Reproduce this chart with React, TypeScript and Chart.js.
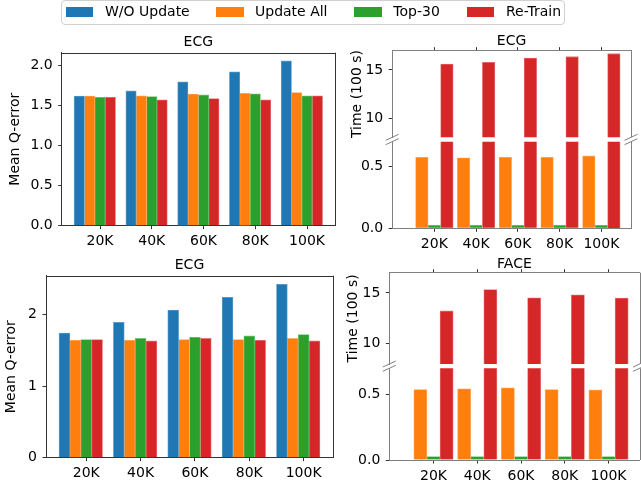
import React, { useEffect, useRef } from "react";
import { Chart, registerables } from "chart.js";

Chart.register(...registerables);

const FONT = "'DejaVu Sans', 'Liberation Sans', sans-serif";
Chart.defaults.font.family = FONT;

// ---------- data ----------
const categories = ["20K", "40K", "60K", "80K", "100K"];
const seriesNames = ["W/O Update", "Update All", "Top-30", "Re-Train"];
const seriesColors = ["#1f77b4", "#ff7f0e", "#2ca02c", "#d62728"];
const seriesEdgeColors = ["#6aa5cf", "#ffad66", "#76c476", "#e57a7b"];

// top-left: ECG, mean Q-error
const ecgErrWoUpdate = [1.62, 1.685, 1.8, 1.925, 2.06];
const ecgErrUpdateAll = [1.62, 1.625, 1.645, 1.655, 1.665];
const ecgErrTop30 = [1.605, 1.615, 1.635, 1.65, 1.625];
const ecgErrRetrain = [1.605, 1.575, 1.59, 1.575, 1.625];

// bottom-left: ECG, mean Q-error
const ecg2ErrWoUpdate = [1.74, 1.89, 2.06, 2.24, 2.42];
const ecg2ErrUpdateAll = [1.64, 1.64, 1.65, 1.65, 1.665];
const ecg2ErrTop30 = [1.65, 1.665, 1.68, 1.7, 1.72];
const ecg2ErrRetrain = [1.65, 1.63, 1.665, 1.64, 1.63];

// top-right: ECG, time (100 s)
const ecgTimeUpdateAll = [0.575, 0.57, 0.575, 0.575, 0.585];
const ecgTimeTop30 = [0.024, 0.024, 0.024, 0.024, 0.024];
const ecgTimeRetrain = [15.62, 15.79, 16.24, 16.38, 16.69];

// bottom-right: FACE, time (100 s)
const faceTimeUpdateAll = [0.538, 0.543, 0.551, 0.538, 0.535];
const faceTimeTop30 = [0.027, 0.027, 0.027, 0.027, 0.027];
const faceTimeRetrain = [13.23, 15.33, 14.53, 14.83, 14.5];

// tick values
const errTicksTop = [0, 0.5, 1, 1.5, 2];
const errTicksBottom = [0, 1, 2];
const timeTicksUpper = [10, 15];
const timeTicksLower = [0, 0.5];

// ---------- layout ----------
const W = 641;
const H = 487;

type Area = { left: number; right: number; top: number; bottom: number };
type SeriesSpec = { idx: number; values: number[]; offset: number };
type PanelSpec = {
  area: Area;
  xRange: [number, number];
  yRange: [number, number];
  yTicks: number[];
  yDecimals: number;
  series: SeriesSpec[];
  xAxis: "bottom" | "top";
  yTitle?: string;
  yTitleX?: number;
  title?: string;
  titleY?: number;
  spineColor: string;
  topSpine: boolean;
  breakAt?: "top" | "bottom";
};

const leftOffsets = [-0.4, -0.2, 0, 0.2];
const rightOffsets = [-0.3, 0, 0.3];

const panels: PanelSpec[] = [
  {
    area: { left: 61.7, right: 335, top: 52.7, bottom: 225.7 },
    xRange: [-0.74, 4.54],
    yRange: [0, 2.163],
    yTicks: errTicksTop,
    yDecimals: 1,
    series: [
      { idx: 0, values: ecgErrWoUpdate, offset: leftOffsets[0] },
      { idx: 1, values: ecgErrUpdateAll, offset: leftOffsets[1] },
      { idx: 2, values: ecgErrTop30, offset: leftOffsets[2] },
      { idx: 3, values: ecgErrRetrain, offset: leftOffsets[3] },
    ],
    xAxis: "bottom",
    yTitle: "Mean Q-error",
    yTitleX: 15.5,
    title: "ECG",
    titleY: 46,
    spineColor: "#333333",
    topSpine: true,
  },
  {
    area: { left: 46, right: 333, top: 275.7, bottom: 457.7 },
    xRange: [-0.74, 4.54],
    yRange: [0, 2.541],
    yTicks: errTicksBottom,
    yDecimals: 0,
    series: [
      { idx: 0, values: ecg2ErrWoUpdate, offset: leftOffsets[0] },
      { idx: 1, values: ecg2ErrUpdateAll, offset: leftOffsets[1] },
      { idx: 2, values: ecg2ErrTop30, offset: leftOffsets[2] },
      { idx: 3, values: ecg2ErrRetrain, offset: leftOffsets[3] },
    ],
    xAxis: "bottom",
    yTitle: "Mean Q-error",
    yTitleX: 11.8,
    title: "ECG",
    titleY: 269,
    spineColor: "#333333",
    topSpine: true,
  },
  {
    area: { left: 392.2, right: 631, top: 50.7, bottom: 137.3 },
    xRange: [-1.01, 4.71],
    yRange: [8, 17],
    yTicks: timeTicksUpper,
    yDecimals: 0,
    series: [
      { idx: 1, values: ecgTimeUpdateAll, offset: rightOffsets[0] },
      { idx: 2, values: ecgTimeTop30, offset: rightOffsets[1] },
      { idx: 3, values: ecgTimeRetrain, offset: rightOffsets[2] },
    ],
    xAxis: "top",
    yTitle: "Time (100 s)",
    yTitleX: 357,
    title: "ECG",
    titleY: 45,
    spineColor: "#808080",
    topSpine: false,
    breakAt: "bottom",
  },
  {
    area: { left: 392.2, right: 631, top: 141.7, bottom: 228.3 },
    xRange: [-1.01, 4.71],
    yRange: [0, 0.7],
    yTicks: timeTicksLower,
    yDecimals: 1,
    series: [
      { idx: 1, values: ecgTimeUpdateAll, offset: rightOffsets[0] },
      { idx: 2, values: ecgTimeTop30, offset: rightOffsets[1] },
      { idx: 3, values: ecgTimeRetrain, offset: rightOffsets[2] },
    ],
    xAxis: "bottom",
    spineColor: "#808080",
    topSpine: false,
    breakAt: "top",
  },
  {
    area: { left: 389.3, right: 639.6, top: 272.7, bottom: 364 },
    xRange: [-1.01, 4.71],
    yRange: [8, 17],
    yTicks: timeTicksUpper,
    yDecimals: 0,
    series: [
      { idx: 1, values: faceTimeUpdateAll, offset: rightOffsets[0] },
      { idx: 2, values: faceTimeTop30, offset: rightOffsets[1] },
      { idx: 3, values: faceTimeRetrain, offset: rightOffsets[2] },
    ],
    xAxis: "top",
    yTitle: "Time (100 s)",
    yTitleX: 353,
    title: "FACE",
    titleY: 267.5,
    spineColor: "#808080",
    topSpine: false,
    breakAt: "bottom",
  },
  {
    area: { left: 389.3, right: 639.6, top: 368.3, bottom: 460 },
    xRange: [-1.01, 4.71],
    yRange: [0, 0.7],
    yTicks: timeTicksLower,
    yDecimals: 1,
    series: [
      { idx: 1, values: faceTimeUpdateAll, offset: rightOffsets[0] },
      { idx: 2, values: faceTimeTop30, offset: rightOffsets[1] },
      { idx: 3, values: faceTimeRetrain, offset: rightOffsets[2] },
    ],
    xAxis: "bottom",
    spineColor: "#808080",
    topSpine: false,
    breakAt: "top",
  },
];

const framePlugin = {
  id: "frame",
  afterDraw(chart: any, _args: any, opts: any) {
    const { ctx, chartArea: a } = chart;
    const crisp = (v: number) => Math.round(v) + 0.5;
    ctx.save();
    ctx.strokeStyle = opts.color;
    ctx.lineWidth = 1;
    ctx.beginPath();
    if (opts.top) {
      ctx.moveTo(a.left, crisp(a.top));
      ctx.lineTo(a.right, crisp(a.top));
    }
    ctx.moveTo(crisp(a.right), a.top);
    ctx.lineTo(crisp(a.right), a.bottom);
    ctx.stroke();
    if (opts.breakAt) {
      const y = opts.breakAt === "bottom" ? a.bottom : a.top;
      ctx.beginPath();
      for (const x of [a.left, a.right]) {
        ctx.moveTo(x - 6.5, y + 3);
        ctx.lineTo(x + 6.5, y - 3);
      }
      ctx.stroke();
    }
    if (opts.title) {
      ctx.fillStyle = "#000";
      ctx.font = `14px ${FONT}`;
      ctx.textAlign = "center";
      ctx.textBaseline = "alphabetic";
      ctx.fillText(opts.title, (a.left + a.right) / 2, opts.titleY);
    }
    ctx.restore();
  },
};

function buildConfig(p: PanelSpec): any {
  const titlePad = 4;
  const yW = p.yTitle ? p.area.left - (p.yTitleX! - 8.4 - titlePad) : 50;
  const padLeft = p.area.left - yW;
  const xH = p.xAxis === "bottom" ? 30 : 0;
  const padding = {
    left: padLeft,
    right: W - p.area.right,
    top: p.area.top,
    bottom: H - p.area.bottom - xH,
  };
  const font = { family: FONT, size: 14 };
  const zeroPad = (s: any) => {
    s.paddingLeft = 0;
    s.paddingRight = 0;
    s.paddingTop = 0;
    s.paddingBottom = 0;
  };
  return {
    type: "bar",
    data: {
      datasets: p.series.map((s) => ({
        label: seriesNames[s.idx],
        data: s.values.map((v, i) => ({ x: i + s.offset, y: v })),
        backgroundColor: seriesColors[s.idx],
        borderColor: seriesEdgeColors[s.idx],
        borderWidth: 0.8,
        borderSkipped: "start",
        grouped: false,
        barPercentage: 1,
        categoryPercentage: 1,
        clip: 0,
      })),
    },
    options: {
      responsive: false,
      animation: false,
      events: [],
      layout: { padding },
      plugins: {
        legend: { display: false },
        tooltip: { enabled: false },
        title: { display: false },
        frame: {
          color: p.spineColor,
          top: p.topSpine,
          breakAt: p.breakAt,
          title: p.title,
          titleY: p.titleY,
        },
      },
      scales: {
        x: {
          type: "linear",
          position: p.xAxis,
          bounds: "data",
          offset: false,
          min: p.xRange[0],
          max: p.xRange[1],
          afterBuildTicks: (s: any) => {
            s.ticks = categories.map((_, i) => ({ value: i }));
          },
          afterFit: (s: any) => {
            s.height = xH;
            zeroPad(s);
          },
          ticks: {
            display: p.xAxis === "bottom",
            autoSkip: false,
            maxRotation: 0,
            minRotation: 0,
            padding: 4,
            color: "#000",
            font,
            callback: (v: any) => categories[Math.round(Number(v))] ?? "",
          },
          grid: {
            display: true,
            offset: false,
            drawOnChartArea: false,
            drawTicks: true,
            tickLength: 3.5,
            tickColor: "#333",
            tickWidth: 1,
          },
          border: { display: true, color: p.spineColor, width: 1 },
        },
        y: {
          type: "linear",
          position: "left",
          bounds: "data",
          min: p.yRange[0],
          max: p.yRange[1],
          afterBuildTicks: (s: any) => {
            s.ticks = p.yTicks.map((v) => ({ value: v }));
          },
          afterFit: (s: any) => {
            s.width = yW;
            zeroPad(s);
          },
          ticks: {
            padding: 5.5,
            color: "#000",
            font,
            callback: (v: any) => Number(v).toFixed(p.yDecimals),
          },
          grid: {
            display: true,
            drawOnChartArea: false,
            drawTicks: true,
            tickLength: 3.5,
            tickColor: "#333",
            tickWidth: 1,
          },
          border: { display: true, color: p.spineColor, width: 1 },
          title: p.yTitle
            ? {
                display: true,
                text: p.yTitle,
                color: "#000",
                font,
                padding: { top: titlePad, bottom: titlePad },
              }
            : { display: false },
        },
      },
    },
    plugins: [framePlugin],
  };
}

function PanelCanvas({ spec }: { spec: PanelSpec }) {
  const ref = useRef<HTMLCanvasElement>(null);
  useEffect(() => {
    if (!ref.current) return;
    const chart = new Chart(ref.current, buildConfig(spec));
    return () => chart.destroy();
  }, [spec]);
  return (
    <canvas
      ref={ref}
      width={W}
      height={H}
      style={{ position: "absolute", left: 0, top: 0, width: W, height: H }}
    />
  );
}

const legendPatchX = [65.7, 216, 354, 466.7];
const legendTextX = [105, 255, 393.3, 506];

function Legend() {
  return (
    <div
      style={{
        position: "absolute",
        left: 60.5,
        top: 0,
        width: 504.5,
        height: 25,
        boxSizing: "border-box",
        border: "1px solid #d0d0d0",
        borderRadius: 4,
        background: "rgba(255,255,255,0.8)",
      }}
    >
      {seriesNames.map((name, i) => (
        <React.Fragment key={name}>
          <div
            style={{
              position: "absolute",
              left: legendPatchX[i] - 61.5,
              top: 5.7,
              width: 27.7,
              height: 10,
              background: seriesColors[i],
            }}
          />
          <div
            style={{
              position: "absolute",
              left: legendTextX[i] - 61.5,
              top: 2,
              height: 17,
              lineHeight: "17px",
              fontFamily: FONT,
              fontSize: 14,
              color: "#000",
              whiteSpace: "nowrap",
            }}
          >
            {name}
          </div>
        </React.Fragment>
      ))}
    </div>
  );
}

export default function App() {
  return (
    <div
      style={{
        position: "absolute",
        left: 0,
        top: 0,
        width: W,
        height: H,
        background: "#fff",
        overflow: "hidden",
      }}
    >
      {panels.map((p, i) => (
        <PanelCanvas key={i} spec={p} />
      ))}
      <Legend />
    </div>
  );
}
